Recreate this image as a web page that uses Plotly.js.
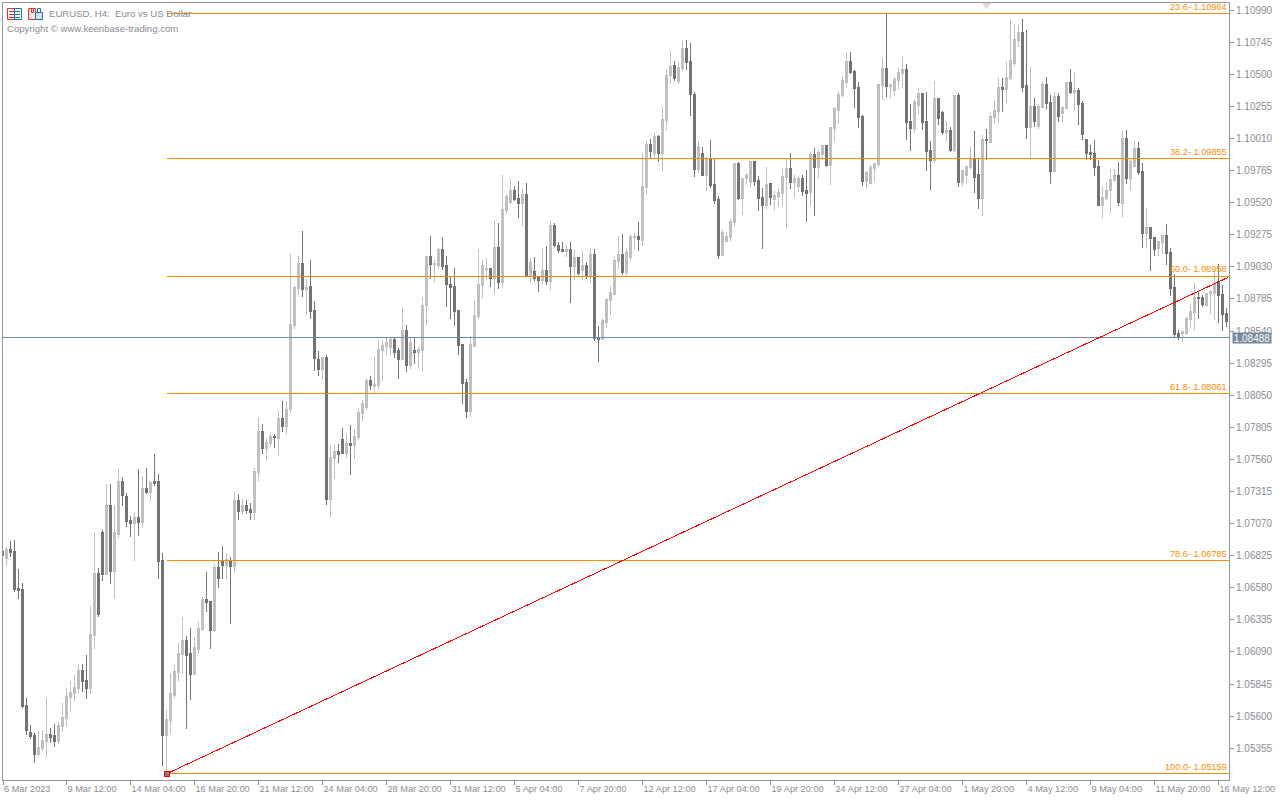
<!DOCTYPE html>
<html><head><meta charset="utf-8">
<script src="https://cdn.plot.ly/plotly-3.0.1.min.js"></script>
<style>
html,body{margin:0;padding:0;background:#fff;overflow:hidden}
#chart{width:1280px;height:800px}
.boxlayer path,.scatterlayer path{shape-rendering:crispEdges}
</style></head><body><div id="chart"></div>
<script>
const open = [
1.06853,1.06805,1.06871,1.06856,1.06573,1.06566,1.05680,1.05474,1.05451,1.05306,
1.05352,1.05405,1.05459,1.05451,1.05405,1.05520,1.05581,1.05741,1.05772,1.05810,
1.05947,1.05871,1.05810,1.06215,1.06688,1.07001,1.06680,1.07207,1.06703,1.06986,
1.07390,1.07276,1.07093,1.07070,1.07115,1.07077,1.07337,1.07306,1.07390,1.07390,
1.06787,1.05451,1.05566,1.05756,1.05932,1.06069,1.06176,1.06077,1.05917,1.06108,
1.06260,1.06489,1.06474,1.06253,1.06734,1.06780,1.06749,1.06787,1.06741,1.07245,
1.07161,1.07206,1.07176,1.07153,1.07458,1.07771,1.07642,1.07680,1.07733,1.07718,
1.07871,1.07810,1.07939,1.08581,1.08863,1.09054,1.08856,1.08878,1.08695,1.08321,
1.08245,1.08336,1.07252,1.07565,1.07619,1.07710,1.07603,1.07680,1.07665,1.07726,
1.07909,1.07955,1.08161,1.08115,1.08123,1.08390,1.08420,1.08413,1.08474,1.08390,
1.08321,1.08543,1.08275,1.08390,1.08375,1.08390,1.08733,1.09108,1.09046,1.09039,
1.09161,1.09039,1.08894,1.08878,1.08695,1.08436,1.08145,1.07924,1.08420,1.08649,
1.08886,1.09009,1.09016,1.08940,1.09177,1.08909,1.09459,1.09520,1.09612,1.09551,
1.09513,1.09581,1.08963,1.08993,1.08955,1.08925,1.09001,1.08917,1.09345,1.09192,
1.09161,1.09146,1.09161,1.09032,1.09100,1.09001,1.09039,1.08963,1.09123,1.08489,
1.08474,1.08604,1.08772,1.08818,1.09070,1.09123,1.08986,1.09100,1.09253,1.09261,
1.09230,1.09635,1.09963,1.09894,1.10024,1.09894,1.10146,1.10490,1.10566,1.10444,
1.10543,1.10696,1.10597,1.10345,1.09772,1.09894,1.09726,1.09848,1.09658,1.09543,
1.09115,1.09222,1.09253,1.09367,1.09818,1.09551,1.09703,1.09673,1.09833,1.09688,
1.09558,1.09497,1.09665,1.09543,1.09566,1.09589,1.09711,1.09780,1.09673,1.09642,
1.09703,1.09612,1.09596,1.09887,1.09787,1.09887,1.09955,1.09803,1.10085,1.10223,
1.10337,1.10436,1.10597,1.10520,1.10398,1.10177,1.09680,1.09665,1.09780,1.09810,
1.10413,1.10543,1.10406,1.10375,1.10452,1.10505,1.10536,1.10139,1.10085,1.10261,
1.10352,1.10139,1.09917,1.09841,1.10314,1.10207,1.10055,1.10070,1.09917,1.10337,
1.09673,1.09726,1.09787,1.09848,1.09734,1.09551,1.10001,1.09978,1.10169,1.10215,
1.10398,1.10383,1.10467,1.10581,1.10757,1.10818,1.10413,1.10093,1.10253,1.10100,
1.10245,1.10421,1.10284,1.09757,1.10329,1.10200,1.10238,1.10436,1.10360,1.10375,
1.10276,1.10001,1.09902,1.09894,1.09795,1.09497,1.09551,1.09612,1.09688,1.09726,
1.09512,1.10009,1.09703,1.09795,1.09932,1.09757,1.09283,1.09329,1.09253,1.09169,
1.09215,1.09268,1.09138,1.08871,1.08520,1.08520,1.08520,1.08627,1.08680,1.08795,
1.08795,1.08734,1.08825,1.08825,1.08917,1.08818,1.08673];
const high = [
1.06853,1.06892,1.06940,1.06947,1.06726,1.06619,1.05741,1.05535,1.05474,1.05489,
1.05497,1.05741,1.05512,1.05543,1.05558,1.05703,1.05818,1.05871,1.05917,1.06001,
1.06001,1.06069,1.06444,1.07009,1.06734,1.07024,1.07375,1.07375,1.07215,1.07490,
1.07429,1.07306,1.07131,1.07161,1.07490,1.07436,1.07497,1.07398,1.07604,1.07451,
1.06848,1.05650,1.05932,1.05993,1.06161,1.06360,1.06215,1.06276,1.06207,1.06321,
1.06512,1.06703,1.06474,1.06764,1.06856,1.06902,1.06848,1.06818,1.07314,1.07299,
1.07260,1.07252,1.07229,1.07497,1.07886,1.07832,1.07726,1.07771,1.07756,1.07932,
1.08008,1.08008,1.09130,1.08886,1.09115,1.09306,1.08940,1.09085,1.08772,1.08390,
1.08344,1.08359,1.07665,1.07680,1.07680,1.07802,1.07756,1.07825,1.07794,1.07955,
1.08016,1.08184,1.08199,1.08344,1.08474,1.08466,1.08489,1.08489,1.08497,1.08413,
1.08718,1.08588,1.08489,1.08489,1.08420,1.08802,1.09115,1.09268,1.09085,1.09176,
1.09260,1.09115,1.08962,1.09024,1.08695,1.08436,1.08176,1.08504,1.08779,1.09169,
1.09085,1.09100,1.09016,1.09390,1.09367,1.09734,1.09589,1.09703,1.09650,1.09688,
1.09635,1.09673,1.09100,1.09108,1.08963,1.09177,1.09192,1.09383,1.09367,1.09222,
1.09222,1.09199,1.09222,1.09161,1.09108,1.09154,1.09070,1.09177,1.09169,1.08581,
1.08634,1.08795,1.08886,1.09108,1.09268,1.09283,1.09169,1.09283,1.09291,1.09375,
1.09902,1.09994,1.10009,1.10055,1.10039,1.10253,1.10543,1.10681,1.10604,1.10597,
1.10757,1.10765,1.10742,1.10368,1.09994,1.09948,1.09871,1.10001,1.09856,1.09574,
1.09314,1.09299,1.09398,1.09825,1.09833,1.09711,1.09749,1.09833,1.09841,1.09726,
1.09635,1.09795,1.09673,1.09612,1.09635,1.09787,1.09856,1.09902,1.09734,1.09726,
1.09734,1.09772,1.09909,1.09940,1.09925,1.09963,1.09963,1.10100,1.10253,1.10375,
1.10490,1.10673,1.10673,1.10536,1.10444,1.10192,1.09764,1.09810,1.09825,1.10429,
1.10627,1.10964,1.10429,1.10482,1.10551,1.10642,1.10581,1.10276,1.10314,1.10398,
1.10352,1.10368,1.09993,1.10452,1.10314,1.10223,1.10146,1.10100,1.10345,1.10360,
1.09764,1.09795,1.09948,1.10070,1.09861,1.10039,1.10085,1.10207,1.10306,1.10474,
1.10474,1.10597,1.10917,1.10887,1.10879,1.10925,1.10841,1.10558,1.10322,1.10276,
1.10452,1.10482,1.10345,1.10368,1.10360,1.10261,1.10444,1.10543,1.10520,1.10398,
1.10299,1.10001,1.09963,1.10001,1.09848,1.09650,1.09680,1.09780,1.09780,1.09833,
1.10070,1.10077,1.09848,1.09993,1.09986,1.09825,1.09482,1.09337,1.09261,1.09222,
1.09276,1.09360,1.09177,1.08978,1.08550,1.08543,1.08650,1.08749,1.08909,1.08848,
1.08818,1.08833,1.08856,1.08986,1.09054,1.08894,1.08718];
const low = [
1.06825,1.06744,1.06813,1.06550,1.06497,1.05660,1.05459,1.05423,1.05240,1.05298,
1.05337,1.05291,1.05398,1.05367,1.05390,1.05482,1.05520,1.05634,1.05718,1.05779,
1.05787,1.05734,1.05772,1.06115,1.06360,1.06634,1.06680,1.06612,1.06497,1.06963,
1.07207,1.07047,1.06970,1.06787,1.06978,1.07047,1.07299,1.07245,1.07360,1.06650,
1.05222,1.05159,1.05466,1.05741,1.05871,1.05924,1.05504,1.05726,1.05917,1.06077,
1.06253,1.06398,1.06115,1.06245,1.06581,1.06650,1.06642,1.06306,1.06703,1.07100,
1.07138,1.07145,1.07099,1.07099,1.07397,1.07603,1.07558,1.07657,1.07649,1.07588,
1.07771,1.07756,1.07916,1.08558,1.08817,1.08802,1.08665,1.08634,1.08237,1.08199,
1.08168,1.07214,1.07122,1.07413,1.07535,1.07603,1.07573,1.07443,1.07565,1.07710,
1.07855,1.07939,1.08092,1.08069,1.08100,1.08161,1.08352,1.08359,1.08336,1.08176,
1.08321,1.08229,1.08252,1.08291,1.08260,1.08229,1.08588,1.08940,1.08917,1.09016,
1.09008,1.08726,1.08634,1.08581,1.08359,1.07985,1.07878,1.07886,1.08420,1.08634,
1.08795,1.08932,1.08879,1.08825,1.08864,1.08879,1.09436,1.09513,1.09535,1.09406,
1.09345,1.08963,1.08909,1.08925,1.08841,1.08902,1.08894,1.08856,1.09184,1.09138,
1.09146,1.09108,1.08757,1.08932,1.08970,1.08932,1.08940,1.08909,1.08467,1.08306,
1.08474,1.08566,1.08665,1.08818,1.09016,1.08970,1.08963,1.09077,1.09161,1.09154,
1.09192,1.09581,1.09864,1.09871,1.09833,1.09764,1.10077,1.10429,1.10452,1.10429,
1.10528,1.10536,1.10184,1.09719,1.09749,1.09726,1.09612,1.09635,1.09513,1.09093,
1.09115,1.09222,1.09230,1.09337,1.09543,1.09428,1.09665,1.09642,1.09650,1.09459,
1.09169,1.09474,1.09505,1.09467,1.09490,1.09497,1.09329,1.09627,1.09558,1.09604,
1.09574,1.09375,1.09497,1.09421,1.09711,1.09848,1.09795,1.09658,1.09986,1.10123,
1.10329,1.10406,1.10505,1.10245,1.10093,1.09650,1.09635,1.09665,1.09680,1.09795,
1.10306,1.10329,1.10322,1.10345,1.10390,1.10398,1.10001,1.09917,1.10055,1.10192,
1.10077,1.09764,1.09619,1.09825,1.10116,1.10039,1.09993,1.09909,1.09909,1.09642,
1.09650,1.09665,1.09780,1.09596,1.09474,1.09421,1.09848,1.09978,1.10123,1.10139,
1.10215,1.10284,1.10459,1.10566,1.10711,1.10368,1.10009,1.09864,1.10100,1.10085,
1.10245,1.10238,1.09665,1.09757,1.10139,1.10139,1.10238,1.10352,1.10223,1.10116,
1.10001,1.09848,1.09848,1.09726,1.09497,1.09406,1.09543,1.09444,1.09680,1.09497,
1.09413,1.09665,1.09612,1.09795,1.09734,1.09177,1.09177,1.09001,1.09115,1.09115,
1.09131,1.09047,1.08810,1.08489,1.08474,1.08459,1.08512,1.08566,1.08550,1.08634,
1.08726,1.08726,1.08673,1.08627,1.08604,1.08543,1.08573];
const close = [
1.06825,1.06871,1.06848,1.06566,1.06558,1.05672,1.05489,1.05443,1.05306,1.05359,
1.05413,1.05459,1.05436,1.05405,1.05527,1.05588,1.05749,1.05779,1.05818,1.05947,
1.05863,1.05810,1.06222,1.06688,1.06375,1.06680,1.07207,1.06703,1.07001,1.07390,
1.07283,1.07085,1.07070,1.07115,1.07077,1.07337,1.07306,1.07383,1.07375,1.06780,
1.05451,1.05573,1.05772,1.05940,1.06077,1.06176,1.06062,1.05917,1.06123,1.06268,
1.06489,1.06467,1.06253,1.06734,1.06650,1.06749,1.06795,1.06741,1.07245,1.07161,
1.07206,1.07168,1.07153,1.07466,1.07771,1.07642,1.07687,1.07733,1.07726,1.07871,
1.07810,1.07939,1.08588,1.08871,1.09054,1.08856,1.08871,1.08688,1.08329,1.08245,
1.08336,1.07252,1.07573,1.07619,1.07596,1.07603,1.07680,1.07665,1.07733,1.07916,
1.07985,1.08161,1.08123,1.08130,1.08397,1.08428,1.08451,1.08474,1.08375,1.08321,
1.08543,1.08275,1.08451,1.08375,1.08397,1.08733,1.09108,1.09046,1.09054,1.09161,
1.09031,1.08894,1.08871,1.08688,1.08428,1.08138,1.07924,1.08436,1.08657,1.08894,
1.09039,1.09016,1.08940,1.09177,1.08909,1.09467,1.09566,1.09612,1.09543,1.09513,
1.09581,1.08963,1.09062,1.08940,1.08925,1.09001,1.08917,1.09345,1.09192,1.09154,
1.09146,1.09161,1.09032,1.09100,1.08978,1.09039,1.08963,1.09123,1.08482,1.08474,
1.08619,1.08780,1.08833,1.09077,1.09123,1.08986,1.09138,1.09261,1.09261,1.09238,
1.09642,1.09963,1.09910,1.10024,1.09894,1.10154,1.10490,1.10559,1.10467,1.10551,
1.10696,1.10589,1.10345,1.09772,1.09948,1.09726,1.09848,1.09650,1.09535,1.09116,
1.09291,1.09261,1.09375,1.09818,1.09551,1.09703,1.09726,1.09833,1.09680,1.09551,
1.09497,1.09658,1.09558,1.09574,1.09596,1.09719,1.09780,1.09673,1.09703,1.09703,
1.09604,1.09589,1.09887,1.09787,1.09902,1.09955,1.09803,1.10093,1.10238,1.10345,
1.10452,1.10597,1.10513,1.10390,1.10169,1.09680,1.09749,1.09787,1.09818,1.10421,
1.10543,1.10406,1.10421,1.10459,1.10513,1.10536,1.10131,1.10085,1.10291,1.10352,
1.10131,1.09909,1.09841,1.10314,1.10161,1.10055,1.10070,1.09917,1.10337,1.09673,
1.09764,1.09795,1.09848,1.09711,1.09551,1.10001,1.09993,1.10177,1.10223,1.10398,
1.10383,1.10474,1.10604,1.10765,1.10818,1.10398,1.10093,1.10253,1.10139,1.10253,
1.10421,1.10276,1.09757,1.10329,1.10177,1.10245,1.10436,1.10360,1.10375,1.10268,
1.10039,1.09894,1.09887,1.09787,1.09497,1.09558,1.09612,1.09696,1.09726,1.09520,
1.10009,1.09703,1.09833,1.09932,1.09749,1.09283,1.09329,1.09245,1.09161,1.09222,
1.09268,1.09131,1.08863,1.08512,1.08497,1.08535,1.08634,1.08688,1.08795,1.08787,
1.08741,1.08825,1.08841,1.08909,1.08810,1.08665,1.08612];

const dateTickBars = [0,16,32,48,64,80,96,112,128,144,160,176,192,208,224,240,256,272,288,304];
const dateTickText = ['6 Mar 2023','9 Mar 12:00','14 Mar 04:00','16 Mar 20:00','21 Mar 12:00','24 Mar 04:00','28 Mar 20:00','31 Mar 12:00','5 Apr 04:00','7 Apr 20:00','12 Apr 12:00','17 Apr 04:00','19 Apr 20:00','24 Apr 12:00','27 Apr 04:00','1 May 20:00','4 May 12:00','9 May 04:00','11 May 20:00','16 May 12:00'];
const priceTicks = [1.10990,1.10745,1.10500,1.10255,1.10010,1.09765,1.09520,1.09275,1.09030,1.08785,1.08540,1.08295,1.08050,1.07805,1.07560,1.07315,1.07070,1.06825,1.06580,1.06335,1.06090,1.05845,1.05600,1.05355];
const fibPercent = ['23.6','38.2','50.0','61.8','78.6','100.0'];
const fibPrice = [1.10964,1.09855,1.08958,1.08061,1.06785,1.05159];
const bidPrice = 1.08488;
const fibStartBar = 41;
const trendBars = [41,306.4];
const trendPrices = [1.05159,1.08950];

const GRAY='#8c8c94', FRAME='#96969e', ORANGE='#ff8c00', SLATE='#778899', FONT='"Liberation Sans", sans-serif';
const xRange=[0.125,306.625], yRange=[1.05112,1.11045];
const L=3,T=3,W=1226,H=777;
const bars=open.map((_,i)=>i);
const px=x=>(x-L)/W, py=y=>1-(y-T)/H;

const data=[{type:'candlestick',x:bars,open:open,high:high,low:low,close:close,
  increasing:{line:{color:'#c0c0c0',width:1},fillcolor:'#c0c0c0'},
  decreasing:{line:{color:'#737373',width:1},fillcolor:'#737373'},
  whiskerwidth:0,hoverinfo:'skip',showlegend:false}];
fibPrice.forEach(p=>data.push({type:'scatter',mode:'lines',x:[fibStartBar,xRange[1]],y:[p,p],
  line:{color:ORANGE,width:1},hoverinfo:'skip',showlegend:false}));
data.push({type:'scatter',mode:'lines',x:xRange,y:[bidPrice,bidPrice],line:{color:SLATE,width:1},hoverinfo:'skip',showlegend:false});
data.push({type:'scatter',mode:'lines',x:trendBars,y:trendPrices,line:{color:'#ff0000',width:1},hoverinfo:'skip',showlegend:false});
data.push({type:'scatter',mode:'markers',x:[trendBars[0]],y:[trendPrices[0]],cliponaxis:false,
  marker:{symbol:'square',size:5,color:'#808080',line:{color:'#ff0000',width:1}},hoverinfo:'skip',showlegend:false});
data.push({type:'scatter',mode:'markers',x:[246],y:[1.11036],cliponaxis:false,
  marker:{symbol:'triangle-down',size:10,color:'#dcdcdc'},hoverinfo:'skip',showlegend:false});

const annotations=fibPrice.map((p,i)=>({xref:'x',yref:'y',x:306.6,y:p,xanchor:'right',yanchor:'middle',yshift:7,showarrow:false,
  text:fibPercent[i]+'- '+p.toFixed(5),font:{family:FONT,size:9.2,color:ORANGE}}));
annotations.push({xref:'paper',yref:'y',x:px(1232),y:bidPrice,xanchor:'left',yanchor:'middle',showarrow:false,
  text:bidPrice.toFixed(5),width:38,height:10,align:'center',bgcolor:SLATE,borderpad:0,font:{family:FONT,size:10,color:'#ffffff'}});
annotations.push({xref:'paper',yref:'paper',x:px(46.5),y:py(13.5),xanchor:'left',yanchor:'middle',showarrow:false,
  text:'EURUSD, H4:  Euro vs US Dollar',font:{family:FONT,size:9.6,color:GRAY}});
annotations.push({xref:'paper',yref:'paper',x:px(5),y:py(28.5),xanchor:'left',yanchor:'middle',showarrow:false,
  text:'Copyright © www.keenbase-trading.com',font:{family:FONT,size:9.6,color:GRAY}});

function box(x0,y0,x1,y1,line,fill){return {type:'rect',xref:'paper',yref:'paper',x0:px(x0),x1:px(x1),y0:py(y0),y1:py(y1),
  line:{color:line,width:1},fillcolor:fill||'rgba(0,0,0,0)',layer:'above'};}
function bar(x0,y,x1,c){return {type:'line',xref:'paper',yref:'paper',x0:px(x0),x1:px(x1),y0:py(y),y1:py(y),line:{color:c,width:1},layer:'above'};}
const RED='#e8302a',BLUE='#1f6fb5';
const shapes=[
  box(7.5,8.5,14.5,19.5,RED),box(14.5,8.5,21.5,19.5,BLUE),
  bar(9,11.5,14,RED),bar(9,14.5,14,RED),bar(9,17.5,14,RED),
  bar(15,11.5,20,BLUE),bar(15,14.5,20,BLUE),bar(15,17.5,20,BLUE),
  box(28.5,8.5,35.5,19.5,RED,'#fde3df'),box(35.5,12.5,42.5,19.5,BLUE,'#cfe6f7'),
  box(31.5,8.5,33.5,12.5,RED,'#ffffff'),box(37.5,8.5,40.5,12.5,BLUE,'#ffffff')
];

const layout={width:1280,height:800,margin:{l:L,r:51,t:T,b:20,pad:0},paper_bgcolor:'#fff',plot_bgcolor:'#fff',
  showlegend:false,boxgap:0.5,hovermode:false,shapes:shapes,annotations:annotations,
  font:{family:FONT,size:10,color:GRAY},
  xaxis:{type:'linear',range:xRange,rangeslider:{visible:false},tickmode:'array',tickvals:dateTickBars.map(v=>Math.max(v,xRange[0])),ticktext:dateTickText,
    ticks:'outside',ticklen:4,tickwidth:1,tickcolor:FRAME,showgrid:false,zeroline:false,showline:true,mirror:true,linecolor:FRAME,linewidth:1,
    ticklabelposition:'outside right',ticklabeloverflow:'allow',tickangle:0,tickfont:{family:FONT,size:9.2,color:GRAY},fixedrange:true},
  yaxis:{side:'right',range:yRange,tickmode:'array',tickvals:priceTicks,ticktext:priceTicks.map(v=>v.toFixed(5)),
    ticks:'outside',ticklen:4,tickwidth:1,tickcolor:FRAME,showgrid:false,zeroline:false,showline:true,mirror:true,linecolor:FRAME,linewidth:1,
    tickfont:{family:FONT,size:10,color:GRAY},fixedrange:true}
};
Plotly.newPlot('chart',data,layout,{displayModeBar:false,staticPlot:true});
</script></body></html>
